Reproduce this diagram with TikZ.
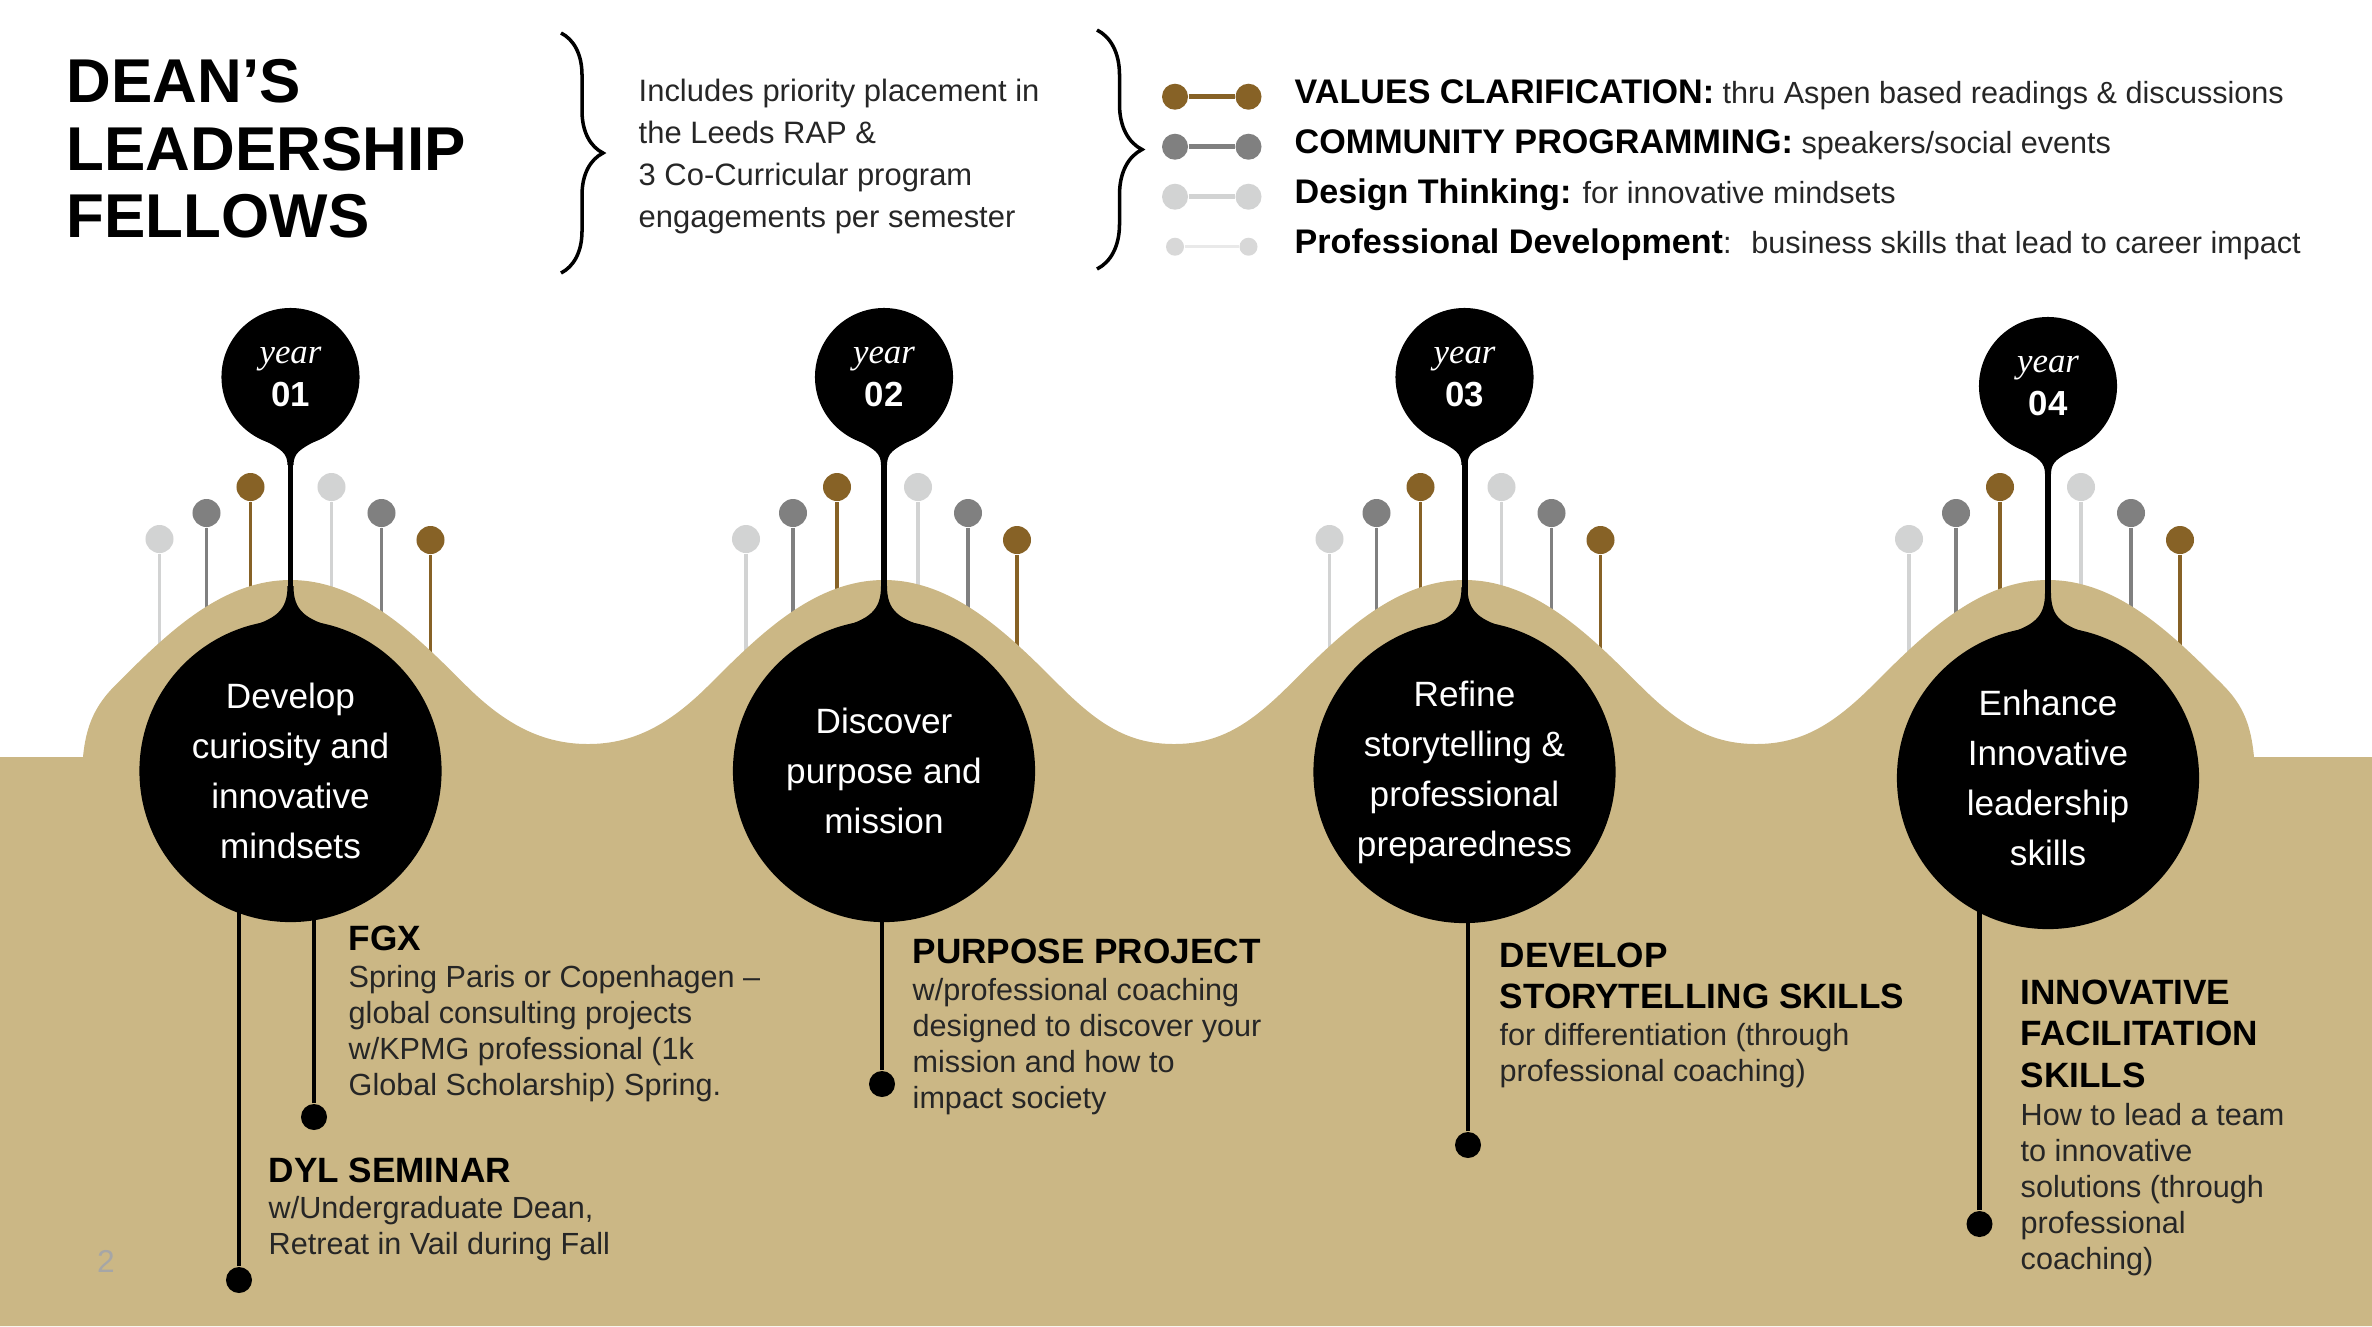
\documentclass[tikz,border=0pt]{standalone}
\usepackage{fontspec}
\setmainfont{Liberation Sans}
\newfontfamily\yearfont{Liberation Serif}
\usetikzlibrary{decorations.pathreplacing}
\definecolor{hilltan}{HTML}{CBB785}
\definecolor{pingold}{HTML}{876226}
\definecolor{pindark}{HTML}{808080}
\definecolor{pinlight}{HTML}{D2D3D3}
\definecolor{pinpale}{HTML}{D8D8D8}
\definecolor{barpale}{HTML}{E9E9E9}
\definecolor{textgray}{HTML}{262626}
\definecolor{pagegray}{HTML}{A6A6A6}

\begin{document}
\begin{tikzpicture}[x=0.01cm, y=-0.01cm, every node/.style={inner sep=0pt},
    yearball/.style={circle, fill=black, text=white, minimum size=1.38cm, align=center, font=\fontsize{9.9}{12.2}\selectfont},
    bigball/.style={circle, fill=black, text=white, minimum size=3.02cm, align=center, font=\fontsize{10}{14.2}\selectfont},
    pinhead/.style={circle, minimum size=0.28cm},
    legball/.style={circle, minimum size=0.26cm},
    enddot/.style={circle, fill=black, minimum size=0.26cm},
    stem/.style={line width=1.4pt},
    heading/.style={anchor=north west, align=left, font=\bfseries\fontsize{10}{11.8}\selectfont},
    body/.style={anchor=north west, align=left, text=textgray, font=\fontsize{8.7}{10.2}\selectfont},
    legtext/.style={anchor=base west, text=textgray, font=\fontsize{8.7}{10}\selectfont},
    bracket/.style={decorate, decoration={brace, amplitude=0.42cm}, line width=1pt}]
    \useasboundingbox (0,0) rectangle (2372,1326);

    % title and program note
    \node[anchor=north west, align=left, font=\bfseries\fontsize{17.6}{19.1}\selectfont] (title) at (66,59) {DEAN’S\\LEADERSHIP\\FELLOWS};
    \draw[bracket] (561,33) -- (561,273);
    \node[anchor=north west, align=left, text=textgray, font=\fontsize{8.8}{12}\selectfont] (intro) at (638,78) {Includes priority placement in\\the Leeds RAP \&\\3 Co-Curricular program\\engagements per semester};
    \draw[bracket, decoration={amplitude=0.45cm}] (1097,30) -- (1097,269);

    % legend
    \node[legball, fill=pingold] (la1) at (1175,96.7) {};
    \node[legball, fill=pingold] (lb1) at (1248.5,96.7) {};
    \draw[pingold, line width=1.4pt] (la1) -- (lb1);
    \node[legtext] (lt1) at (1294,103.7) {{\bfseries\color{black}\fontsize{9.7}{10}\selectfont VALUES CLARIFICATION:} thru Aspen based readings \& discussions};
    \node[legball, fill=pindark] (la2) at (1175,146.7) {};
    \node[legball, fill=pindark] (lb2) at (1248.5,146.7) {};
    \draw[pindark, line width=1.4pt] (la2) -- (lb2);
    \node[legtext] (lt2) at (1294,153.7) {{\bfseries\color{black}\fontsize{9.7}{10}\selectfont COMMUNITY PROGRAMMING:} speakers/social events};
    \node[legball, fill=pinlight] (la3) at (1175,196.7) {};
    \node[legball, fill=pinlight] (lb3) at (1248.5,196.7) {};
    \draw[pinlight, line width=1.4pt] (la3) -- (lb3);
    \node[legtext] (lt3) at (1294,203.7) {{\bfseries\color{black}\fontsize{9.7}{10}\selectfont Design Thinking:} for innovative mindsets};
    \node[circle, minimum size=0.18cm, fill=pinpale] (la4) at (1175,246.7) {};
    \node[circle, minimum size=0.18cm, fill=pinpale] (lb4) at (1248.5,246.7) {};
    \draw[barpale, line width=1pt] (la4) -- (lb4);
    \node[legtext] (lt4) at (1294,253.7) {{\bfseries\color{black}\fontsize{9.7}{10}\selectfont Professional Development}: \ business skills that lead to career impact};

    % pins behind the hills
    \foreach \cx/\sh [count=\i] in {290.5/4, 884/-3, 1464.5/0, 2048/-4} {
        \foreach \dx/\hy/\col [count=\j] in {-135/539/pinlight, -88/513/pindark, -44/487/pingold, 37/487/pinlight, 87/513/pindark, 136/540/pingold} {
            \coordinate (pb\i\j) at (\cx+\dx+\sh,760);
            \node[pinhead, fill=\col] (ph\i\j) at (\cx+\dx+\sh,\hy) {};
            \draw[\col, line width=1.1pt] (ph\i\j) -- (pb\i\j);
        }
    }

    % hills
    \fill[hilltan] (0,757) -- (83,757) .. controls (86,725) and (95.5,705) .. (115.5,685)
        .. controls (165.5,635) and (220.5,580) .. (290.5,580)
        .. controls (360.5,580) and (415.5,635) .. (465.5,685) .. controls (505.5,725) and (543,744) .. (588,744)
        .. controls (633,744) and (669,725) .. (709,685) .. controls (759,635) and (814,580) .. (884,580)
        .. controls (954,580) and (1009,635) .. (1059,685) .. controls (1099,725) and (1129,744) .. (1174,744)
        .. controls (1219,744) and (1249.5,725) .. (1289.5,685) .. controls (1339.5,635) and (1394.5,580) .. (1464.5,580)
        .. controls (1534.5,580) and (1589.5,635) .. (1639.5,685) .. controls (1679.5,725) and (1711,744) .. (1756,744)
        .. controls (1801,744) and (1833,725) .. (1873,685) .. controls (1923,635) and (1978,580) .. (2048,580)
        .. controls (2118,580) and (2173,635) .. (2223,685) .. controls (2243,705) and (2251,725) .. (2254,757)
        -- (2372,757) -- (2372,1326) -- (0,1326) -- cycle;

    % year pins
    \foreach \cx/\ty/\by/\num/\txt [count=\i] in {290.5/377/771/01/{Develop\\curiosity and\\innovative\\mindsets},
        884/377/771/02/{Discover\\purpose and\\mission},
        1464.5/377/772/03/{Refine\\storytelling \&\\professional\\preparedness},
        2048/386/778/04/{Enhance\\Innovative\\leadership\\skills}} {
        \node[yearball] (yr\i) at (\cx,\ty) {{\yearfont\itshape year}\\{\bfseries\num}};
        \node[bigball] (big\i) at (\cx,\by) {\txt};
        \draw[line width=1.7pt] (yr\i) -- (big\i);
        \fill (\cx-25,\ty+64) .. controls (\cx-10,\ty+72) and (\cx-3,\ty+76) .. (\cx-3,\ty+88)
            -- (\cx+3,\ty+88) .. controls (\cx+3,\ty+76) and (\cx+10,\ty+72) .. (\cx+25,\ty+64) -- cycle;
        \fill (\cx-3,\by-185) .. controls (\cx-3,\by-160) and (\cx-15,\by-152) .. (\cx-45,\by-143)
            -- (\cx+45,\by-143) .. controls (\cx+15,\by-152) and (\cx+3,\by-160) .. (\cx+3,\by-185) -- cycle;
    }

    % activities
    \node[enddot] (dfgx) at (314,1117) {};
    \node[enddot] (ddyl) at (239,1280) {};
    \node[enddot] (dpur) at (882,1084) {};
    \node[enddot] (dstory) at (1468,1145) {};
    \node[enddot] (dinno) at (1979.5,1224) {};
    \draw[stem] (dfgx) -- ([yshift=0.3cm]dfgx |- big1.south);
    \draw[stem] (ddyl) -- ([yshift=0.3cm]ddyl |- big1.south);
    \draw[stem] (dpur) -- ([yshift=0.3cm]dpur |- big2.south);
    \draw[stem] (dstory) -- ([yshift=0.3cm]dstory |- big3.south);
    \draw[stem] (dinno) -- ([yshift=0.3cm]dinno |- big4.south);

    \node[heading] (hfgx) at (348,925) {FGX};
    \node[body] (bfgx) at (348,965) {Spring Paris or Copenhagen \textendash\\global consulting projects\\w/KPMG professional (1k\\Global Scholarship) Spring.};
    \node[heading] (hdyl) at (268,1157) {DYL SEMINAR};
    \node[body] (bdyl) at (268,1196) {w/Undergraduate Dean,\\Retreat in Vail during Fall};
    \node[heading] (hpur) at (912,938) {PURPOSE PROJECT};
    \node[body] (bpur) at (912,978) {w/professional coaching\\designed to discover your\\mission and how to\\impact society};
    \node[heading] (hstory) at (1499,942) {DEVELOP\\STORYTELLING SKILLS};
    \node[body] (bstory) at (1499,1023) {for differentiation (through\\professional coaching)};
    \node[heading] (hinno) at (2020,979) {INNOVATIVE\\FACILITATION\\SKILLS};
    \node[body] (binno) at (2020,1103) {How to lead a team\\to innovative\\solutions (through\\professional\\coaching)};

    \node[text=pagegray, font=\fontsize{9}{10}\selectfont] (pagenum) at (106,1261) {2};
\end{tikzpicture}
\end{document}
